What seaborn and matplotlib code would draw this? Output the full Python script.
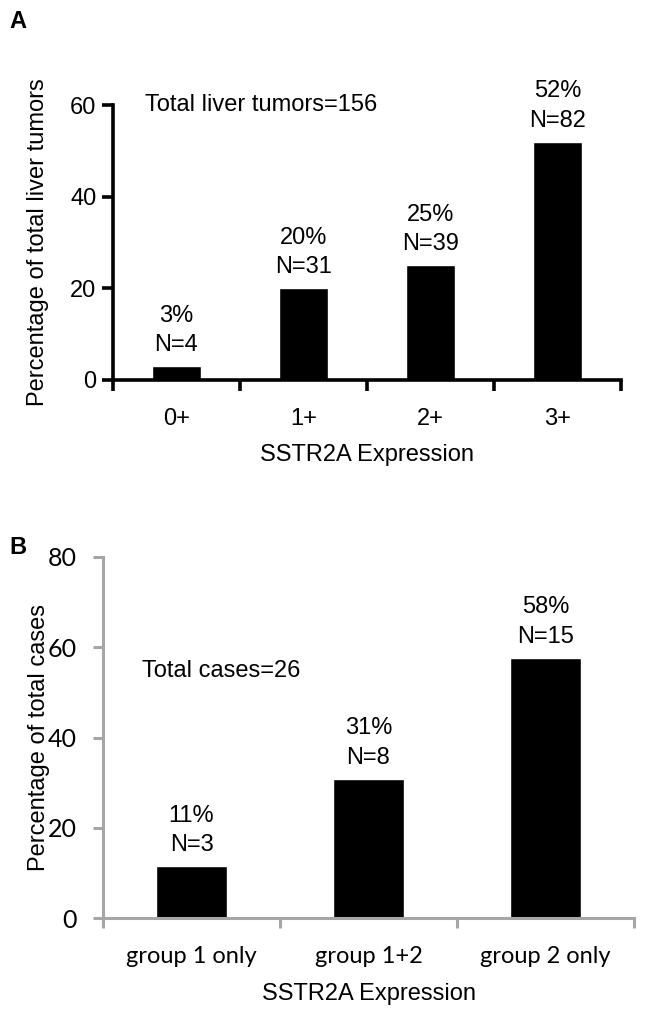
"""SSTR2A expression in liver tumours (A) and per-case groups (B)."""
import matplotlib
matplotlib.use("Agg")
import matplotlib.pyplot as plt
import pandas as pd
import seaborn as sns

# ── Data ──────────────────────────────────────────────────────────────
A_CATS = ["0+", "1+", "2+", "3+"]
A_PCT = [3, 20, 25, 52]
A_N = [4, 31, 39, 82]
A_TOTAL = 156

B_CATS = ["group 1 only", "group 1+2", "group 2 only"]
B_PCT = [11.5, 30.8, 57.7]
B_LABEL = [11, 31, 58]
B_N = [3, 8, 15]
B_TOTAL = 26

W, H = 646, 1016
ARIAL = ["Liberation Sans", "DejaVu Sans"]
CALIBRI = ["Lato", "DejaVu Sans"]
GREY = "#a6a6a6"
FS = 17

sns.set_theme(style="white")
plt.rcParams["font.family"] = ARIAL
plt.rcParams.update({"text.color": "black", "axes.labelcolor": "black",
                     "xtick.color": "black", "ytick.color": "black"})


def px_axes(fig, left, top, right, bottom):
    return fig.add_axes([left / W, 1 - bottom / H, (right - left) / W, (bottom - top) / H])


def style_axes(ax, n, color, lw, ymax, step, tick_font, tick_size, ticklen,
               xpad, ypad):
    ax.set_xlim(-0.5, n - 0.5)
    ax.set_ylim(0, ymax)
    ax.set_yticks(range(0, ymax + 1, step))
    for side in ("top", "right"):
        ax.spines[side].set_visible(False)
    for side in ("left", "bottom"):
        ax.spines[side].set_color(color)
        ax.spines[side].set_linewidth(lw)
    # ticks at category boundaries, labels at centres
    ax.set_xticks([i - 0.5 for i in range(n + 1)])
    ax.set_xticklabels([])
    ax.set_xticks(range(n), minor=True)
    ax.tick_params(axis="x", which="major", direction="out", length=ticklen,
                   width=lw, color=color, bottom=True)
    ax.tick_params(axis="x", which="minor", length=0, pad=xpad, bottom=True,
                   labelcolor="black")
    ax.tick_params(axis="y", direction="out", length=ticklen, width=lw,
                   color=color, left=True, pad=ypad, labelcolor="black")
    for lab in ax.get_yticklabels():
        lab.set_family(tick_font)
        lab.set_fontsize(tick_size)
    ax.grid(False)
    ax.set_facecolor("white")


fig = plt.figure(figsize=(W / 100, H / 100), dpi=100)
fig.patch.set_facecolor("white")

# ── Panel A ───────────────────────────────────────────────────────────
ax_a = px_axes(fig, 113, 105, 621, 380)
df_a = pd.DataFrame({"cat": A_CATS, "pct": A_PCT})
sns.barplot(data=df_a, x="cat", y="pct", color="black", saturation=1,
            width=0.39, ax=ax_a)
style_axes(ax_a, len(A_CATS), "black", 2.6, 60, 20, ARIAL, FS, 8, 20, 4)
ax_a.set_xticklabels(A_CATS, minor=True, fontsize=FS, family=ARIAL)
ax_a.set_xlabel("SSTR2A Expression", fontsize=FS, labelpad=10)
ax_a.set_ylabel("Percentage of total liver tumors", fontsize=FS, labelpad=15)
for i, (p, n) in enumerate(zip(A_PCT, A_N)):
    ax_a.text(i, p + 2.2, f"{p}%\nN={n}", ha="center", va="bottom",
              fontsize=FS, linespacing=1.45)
ax_a.text(0.063, 1.0, f"Total liver tumors={A_TOTAL}", transform=ax_a.transAxes,
          ha="left", va="center", fontsize=FS)
fig.text(18 / W, 1 - 21 / H, "A", fontsize=17, fontweight="bold",
         ha="center", va="center")

# ── Panel B ───────────────────────────────────────────────────────────
ax_b = px_axes(fig, 103, 557, 634, 918)
df_b = pd.DataFrame({"cat": B_CATS, "pct": B_PCT})
sns.barplot(data=df_b, x="cat", y="pct", color="black", saturation=1,
            width=0.40, ax=ax_b)
style_axes(ax_b, len(B_CATS), GREY, 2.2, 80, 20, CALIBRI, 18, 7, 20, 12)
ax_b.set_xticklabels(B_CATS, minor=True, fontsize=FS, family=CALIBRI)
ax_b.set_xlabel("SSTR2A Expression", fontsize=FS, labelpad=12)
ax_b.set_ylabel("Percentage of total cases", fontsize=FS, labelpad=-2)
for i, (p, lab, n) in enumerate(zip(B_PCT, B_LABEL, B_N)):
    ax_b.text(i, p + 2.2, f"{lab}%\nN={n}", ha="center", va="bottom",
              fontsize=FS, linespacing=1.45)
ax_b.text(0.073, 0.685, f"Total cases={B_TOTAL}", transform=ax_b.transAxes,
          ha="left", va="center", fontsize=FS)
fig.text(18 / W, 1 - 548 / H, "B", fontsize=17, fontweight="bold",
         ha="center", va="center")

fig.savefig("out.png", dpi=100, facecolor="white")
